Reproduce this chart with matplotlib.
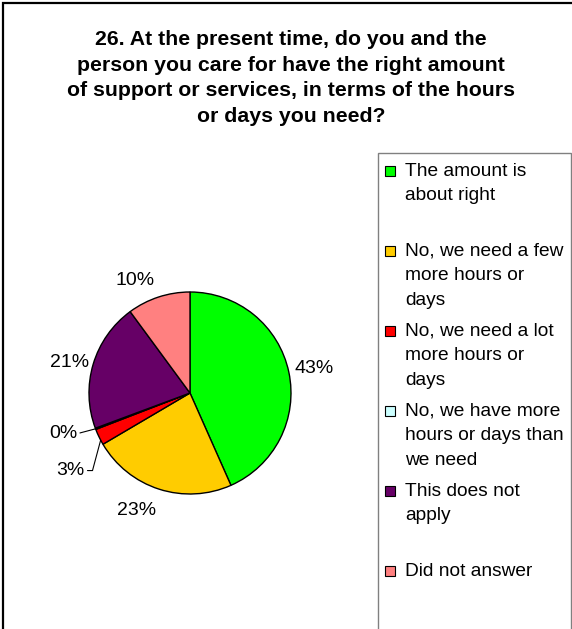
import matplotlib
matplotlib.use("Agg")
import matplotlib.pyplot as plt
from matplotlib.patches import Rectangle
import numpy as np

plt.rcParams['font.family'] = ['Liberation Sans', 'DejaVu Sans']

title = ("26. At the present time, do you and the\n"
         "person you care for have the right amount\n"
         "of support or services, in terms of the hours\n"
         "or days you need?")
categories = ["The amount is\nabout right",
              "No, we need a few\nmore hours or\ndays",
              "No, we need a lot\nmore hours or\ndays",
              "No, we have more\nhours or days than\nwe need",
              "This does not\napply",
              "Did not answer"]
values = [43.4, 23.2, 2.6, 0.2, 20.6, 10.1]
colors = ["#00FF00", "#FFCC00", "#FF0000", "#CCFFFF", "#660066", "#FF8080"]

# label placement (layout only): angle shift from wedge middle, distance in radii
label_shift = [-0.9, -6.8, 7.2, -3.0, 2.5, 7.8]
label_dist = [1.25, 1.28, 1.41, 1.32, 1.23, 1.24]

W, H = 572, 629
fig = plt.figure(figsize=(W / 100, H / 100), dpi=100)

def fx(x):
    return x / W

def fy(y):
    return 1 - y / H

# outer border
fig.patches.append(Rectangle((fx(3), fy(640)), fx(575 - 3), (640 - 3) / H,
                             transform=fig.transFigure, fill=False,
                             edgecolor='black', lw=1.6, zorder=0))

fig.text(fx(291), fy(78), title, ha='center', va='center', fontsize=15.3,
         fontweight='bold', linespacing=1.43)

# pie axes: center (190, 393), radius 101 px
R = 101
half = 1.5 * R
ax = fig.add_axes([fx(190 - half), fy(393 + half), 2 * half / W, 2 * half / H])

wedges, _ = ax.pie(values, colors=colors, startangle=90, counterclock=False,
                   radius=1.0, wedgeprops=dict(edgecolor='black', linewidth=1.0))
ax.set_xlim(-1.5, 1.5)
ax.set_ylim(-1.5, 1.5)
ax.set_aspect('equal')
ax.axis('off')

FS = 14
labels = ["%.0f%%" % v for v in values]
for i, (w, lab) in enumerate(zip(wedges, labels)):
    mid_deg = (w.theta1 + w.theta2) / 2
    mid = np.deg2rad(mid_deg)
    ang = np.deg2rad(mid_deg + label_shift[i])
    tx, ty = label_dist[i] * np.cos(ang), label_dist[i] * np.sin(ang)
    if i == 2:
        ax.annotate(lab, xy=(np.cos(mid + np.deg2rad(2)), np.sin(mid + np.deg2rad(2))),
                    xytext=(tx, ty), ha='center', va='center', fontsize=FS,
                    arrowprops=dict(arrowstyle='-', lw=0.8, color='black',
                                    relpos=(1, 0.5), shrinkA=0, shrinkB=0,
                                    connectionstyle='angle,angleA=0,angleB=75,rad=0'))
    elif i == 3:
        ax.annotate(lab, xy=(np.cos(mid), np.sin(mid)),
                    xytext=(tx, ty), ha='center', va='center', fontsize=FS,
                    arrowprops=dict(arrowstyle='-', lw=0.8, color='black',
                                    relpos=(1, 0.5), shrinkA=0, shrinkB=0))
    else:
        ax.text(tx, ty, lab, ha='center', va='center', fontsize=FS)

# legend box
fig.patches.append(Rectangle((fx(378), fy(640)), fx(571 - 378), (640 - 153) / H,
                             transform=fig.transFigure, fill=False,
                             edgecolor='#808080', lw=1.0, zorder=1))
for k, (cat, c) in enumerate(zip(categories, colors)):
    yc = 170 + 80 * k
    fig.patches.append(Rectangle((fx(385), fy(yc + 6)), 10 / W, 10 / H,
                                 transform=fig.transFigure, facecolor=c,
                                 edgecolor='black', lw=0.8, zorder=2))
    fig.text(fx(405), fy(yc - 7), cat, ha='left', va='top', fontsize=13.8,
             linespacing=1.56)

fig.savefig("out.png", dpi=100)
